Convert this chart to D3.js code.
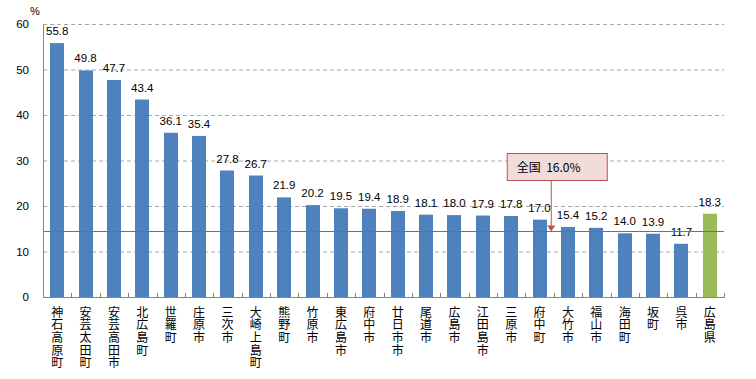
<!DOCTYPE html>
<html><head><meta charset="utf-8">
<script src="https://cdn.jsdelivr.net/npm/d3@7"></script>
<style>body{margin:0;background:#fff}svg{display:block}text{font-family:"Liberation Sans","DejaVu Sans",sans-serif;fill:#000}</style>
</head><body><svg id="c" width="756" height="379"></svg>
<script>
const categories = ["神石高原町","安芸太田町","安芸高田市","北広島町","世羅町","庄原市","三次市","大崎上島町","熊野町","竹原市","東広島市","府中市","廿日市市","尾道市","広島市","江田島市","三原市","府中町","大竹市","福山市","海田町","坂町","呉市","広島県"];
const values = [55.8,49.8,47.7,43.4,36.1,35.4,27.8,26.7,21.9,20.2,19.5,19.4,18.9,18.1,18.0,17.9,17.8,17.0,15.4,15.2,14.0,13.9,11.7,18.3];
const yTicks = [0,10,20,30,40,50,60];
const nationalLabel = "全国  16.0%";
const nationalLineValue = 14.4;
const calloutCategory = "大竹市";

const svg = d3.select("#c");
const L = 43, R = 724, T = 24, B = 297;
const xb = d3.scaleBand().domain(categories).range([L, R]);
const y = d3.scaleLinear().domain([0, 60]).range([B, T]);

// gridlines
svg.append("g").selectAll("line").data(yTicks.filter(d => d > 0)).join("line")
  .attr("x1", L).attr("x2", R).attr("y1", d => y(d) + 0.5).attr("y2", d => y(d) + 0.5)
  .attr("stroke", "#a6a6a6").attr("stroke-dasharray", "4,3");

// y tick labels
svg.append("g").selectAll("text").data(yTicks).join("text")
  .attr("x", 29).attr("y", d => y(d) + 4).attr("text-anchor", "end")
  .attr("font-size", 11.5).text(d => d);
svg.append("text").attr("x", 30).attr("y", 15).attr("font-size", 11).text("%");

// bars
svg.append("g").selectAll("rect").data(values).join("rect")
  .attr("x", (d, i) => Math.round(xb(categories[i]) + xb.bandwidth() / 2 - 7))
  .attr("width", 14)
  .attr("y", d => y(d)).attr("height", d => B - y(d))
  .attr("fill", (d, i) => i === categories.length - 1 ? "#9bbb59" : "#4f81bd");

// value labels
svg.append("g").selectAll("text").data(values).join("text")
  .attr("x", (d, i) => xb(categories[i]) + xb.bandwidth() / 2)
  .attr("y", d => y(d) - 8).attr("text-anchor", "middle")
  .attr("font-size", 11.5).text(d => d.toFixed(1));

// national line
svg.append("line").attr("x1", L).attr("x2", R)
  .attr("y1", Math.round(y(nationalLineValue)) + 0.5).attr("y2", Math.round(y(nationalLineValue)) + 0.5)
  .attr("stroke", "#c0504d").attr("stroke-width", 1);

// axes
svg.append("line").attr("x1", L + 0.5).attr("x2", L + 0.5).attr("y1", T).attr("y2", B).attr("stroke", "#868686");
svg.append("line").attr("x1", L).attr("x2", R + 1).attr("y1", B + 0.5).attr("y2", B + 0.5).attr("stroke", "#868686");
svg.append("g").selectAll("line").data(categories).join("line")
  .attr("x1", (d, i) => Math.round(L + xb.step() * (i + 1)) + 0.5)
  .attr("x2", (d, i) => Math.round(L + xb.step() * (i + 1)) + 0.5)
  .attr("y1", B - 4).attr("y2", B).attr("stroke", "#868686");

// x labels vertical
svg.append("g").selectAll("text").data(categories).join("text")
  .attr("x", d => xb(d) + xb.bandwidth() / 2).attr("y", 306)
  .attr("font-size", 12)
  .style("font-family", "'Noto Sans CJK JP','Noto Sans CJK SC',sans-serif")
  .style("writing-mode", "vertical-rl").style("text-orientation", "upright")
  .style("letter-spacing", "0.7px")
  .text(d => d);

// callout
const ax = xb(calloutCategory) - 3;
const by = 153, bw = 100, bh = 27, bx = ax - 44;
svg.append("line").attr("x1", ax + 0.5).attr("x2", ax + 0.5).attr("y1", by + bh).attr("y2", y(nationalLineValue) - 4)
  .attr("stroke", "#c0504d");
svg.append("path").attr("d", `M${ax - 3.5},${y(nationalLineValue) - 6} L${ax + 4.5},${y(nationalLineValue) - 6} L${ax + 0.5},${y(nationalLineValue)} Z`)
  .attr("fill", "#c0504d");
svg.append("rect").attr("x", bx + 0.5).attr("y", by + 0.5).attr("width", bw).attr("height", bh)
  .attr("fill", "#f2dcdb").attr("stroke", "#c0504d");
svg.append("text").attr("x", bx + 10).attr("y", by + 19).attr("font-size", 12)
  .style("font-family", "'Noto Sans CJK JP',sans-serif").style("white-space", "pre")
  .text(nationalLabel);
</script></body></html>
